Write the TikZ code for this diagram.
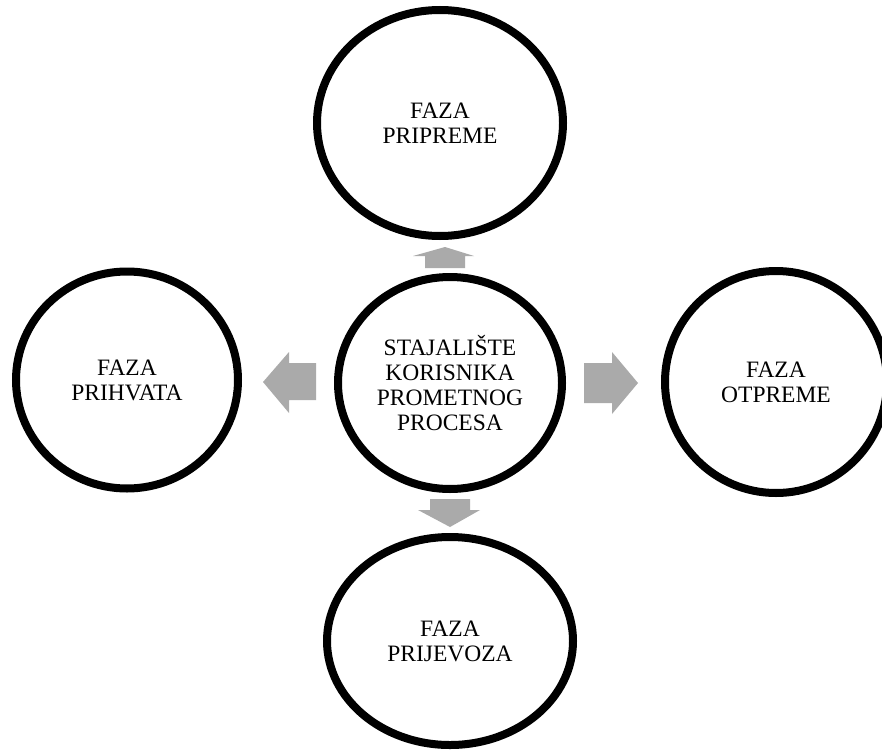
\documentclass[tikz,border=0pt]{standalone}
\usepackage{fontspec}
\setmainfont{Liberation Serif}
\usetikzlibrary{shapes.geometric}
\definecolor{arrowgray}{RGB}{170,170,170}
\tikzset{
  phase/.style={ellipse, draw=black, line width=8pt, fill=white, inner sep=0pt,
    align=center, font=\fontsize{23.5pt}{25pt}\selectfont},
  blockarrow/.style={fill=arrowgray, draw=none}
}
\begin{document}
\begin{tikzpicture}[x=1pt,y=-1pt]
\useasboundingbox[fill=white] (0,0) rectangle (882,749);
% block arrows
\fill[blockarrow] (425,268) -- (425,256) -- (413,256) -- (445,247) -- (474,256) -- (465,256) -- (465,268) -- cycle;
\fill[blockarrow] (430,499) -- (470,499) -- (470,510) -- (480,510) -- (450,527) -- (418,510) -- (430,510) -- cycle;
\fill[blockarrow] (316,363) -- (289,363) -- (289,352) -- (263,382) -- (289,413) -- (289,400) -- (316,400) -- cycle;
\fill[blockarrow] (584,363) -- (612,363) -- (612,352) -- (638,383) -- (612,414) -- (612,403) -- (584,403) -- cycle;
% circles
\node[phase, minimum width=246pt, minimum height=226pt] (top) at (440,123) {FAZA\\PRIPREME};
\node[phase, minimum width=224pt, minimum height=212pt] (mid) at (450,383) {STAJALIŠTE\\KORISNIKA\\PROMETNOG\\PROCESA};
\node[phase, minimum width=222pt, minimum height=217pt] (left) at (127,380) {FAZA\\PRIHVATA};
\node[phase, minimum width=222pt, minimum height=222pt] (right) at (776,382) {FAZA\\OTPREME};
\node[phase, minimum width=246pt, minimum height=208pt] (bottom) at (450,641) {FAZA\\PRIJEVOZA};
\end{tikzpicture}
\end{document}
